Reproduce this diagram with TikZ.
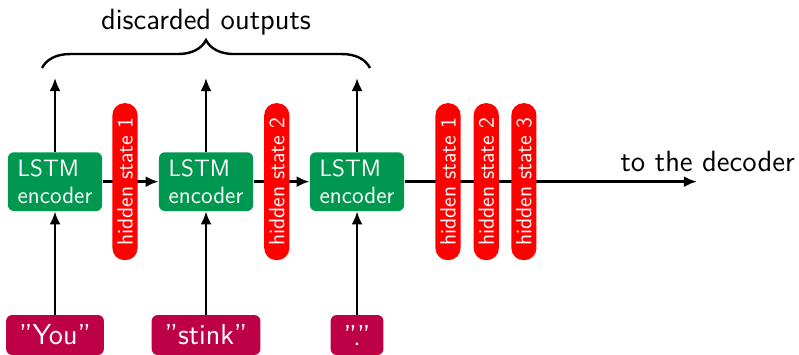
\documentclass[tikz,border=0pt]{standalone}
\usepackage{xcolor}
\usepackage{tikz}
\definecolor{encgreen}{RGB}{0, 152, 80}
\definecolor{statered}{RGB}{255, 0, 0}
\definecolor{tokenred}{RGB}{190, 0, 70}
\usetikzlibrary{arrows.meta, positioning, calc, decorations.pathreplacing}

\begin{document}
\begin{tikzpicture}[
    encoder/.style={rectangle, rounded corners=3pt, fill=encgreen, text=white, minimum width=1.65cm, minimum height=1.03cm, align=left, font=\sffamily\fontsize{11.8}{13.5}\selectfont},
    hidden/.style={rectangle, rounded corners=6pt, fill=statered, text=white, rotate=90, minimum width=2.75cm, minimum height=0.44cm, inner sep=0pt, font=\sffamily\fontsize{11}{13}\selectfont},
    token/.style={rectangle, rounded corners=3pt, fill=tokenred, text=white, minimum height=0.70cm, inner xsep=6.5pt, font=\sffamily\fontsize{14.4}{17}\selectfont},
    bigtext/.style={font=\sffamily\fontsize{14.6}{17}\selectfont},
    flow/.style={-{Latex[length=6.5pt,width=5.5pt]}, line width=1.2pt}
]
    \useasboundingbox (0,0) rectangle (14,6.203);

    % Encoder cells
    \node[encoder] (lstm1) at (0.964,3.02) {LSTM\\encoder};
    \node[encoder] (lstm2) at (3.61,3.02) {LSTM\\encoder};
    \node[encoder] (lstm3) at (6.256,3.02) {LSTM\\encoder};

    % Input tokens
    \node[token] (in1) at (0.964,0.333) {”You”};
    \node[token] (in2) at (3.61,0.333) {”stink”};
    \node[token] (in3) at (6.256,0.333) {”.”};

    % Free ends
    \coordinate (out1) at (0.964,4.836);
    \coordinate (out2) at (3.61,4.836);
    \coordinate (out3) at (6.256,4.836);
    \coordinate (dec) at (12.21,3.02);
    \coordinate (brl) at (0.736,5.011);
    \coordinate (brr) at (6.483,5.011);

    % Connectors
    \draw[flow] (in1) -- (lstm1);
    \draw[flow] (in2) -- (lstm2);
    \draw[flow] (in3) -- (lstm3);
    \draw[flow] (lstm1) -- (out1);
    \draw[flow] (lstm2) -- (out2);
    \draw[flow] (lstm3) -- (out3);
    \draw[flow] (lstm1) -- (lstm2);
    \draw[flow] (lstm2) -- (lstm3);
    \draw[flow] (lstm3) -- (dec);

    % Hidden states
    \node[hidden] (hid1) at (2.19,3.02) {hidden state 1};
    \node[hidden] (hid2) at (4.85,3.02) {hidden state 2};
    \node[hidden] (fin1) at (7.85,3.02) {hidden state 1};
    \node[hidden] (fin2) at (8.52,3.02) {hidden state 2};
    \node[hidden] (fin3) at (9.18,3.02) {hidden state 3};

    % Brace and labels
    \draw[line width=1.2pt, decorate, decoration={brace, amplitude=0.49cm}] (brl) -- (brr);
    \node[bigtext] (disc) at (3.61,5.817) {discarded outputs};
    \node[bigtext] (todec) at (12.40,3.382) {to the decoder};
\end{tikzpicture}
\end{document}
